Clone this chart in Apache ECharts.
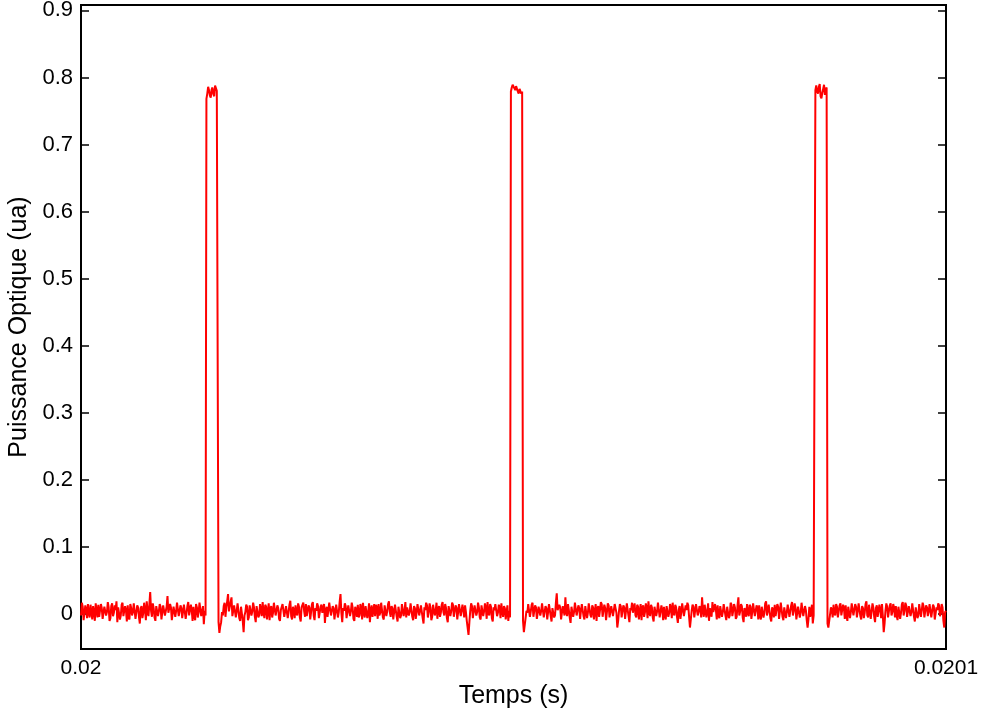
<!DOCTYPE html>
<html>
<head>
<meta charset="utf-8">
<script src="https://cdn.jsdelivr.net/npm/echarts@6/dist/echarts.min.js"></script>
<style>
html,body{margin:0;padding:0;background:#fff;}
#chart{width:981px;height:713px;}
</style>
</head>
<body>
<div id="chart"></div>
<script>
// Oscilloscope trace: sampled every 0.1 microsecond starting at t = 0.02 s
const timeStart = 0.02;      // s
const timeStep = 1e-7;       // s
const xTickValues = [0.02, 0.0201];
const yTickValues = [0, 0.1, 0.2, 0.3, 0.4, 0.5, 0.6, 0.7, 0.8, 0.9];
const xAxisName = 'Temps (s)';
const yAxisName = 'Puissance Optique (ua)';

const power = [
 -.002,.017,.011,-.009,-.008,.013,.006,-.006,.015,.002,-.005,.014,.004,-.008,.012,.003,-.010,.016,.005,-.005,
 .014,-.004,-.003,.015,.009,-.007,-.009,.011,.013,-.002,.003,.018,.010,-.010,-.006,.012,.016,-.003,.002,.013,
 .006,.019,-.012,.010,.011,-.008,-.002,.014,.017,-.003,-.004,.012,.005,-.011,.013,-.005,-.008,.015,.009,-.002,
 .003,.016,.015,-.007,-.005,.013,.010,-.004,-.014,.009,.012,-.006,.002,.017,.006,-.009,.019,.004,-.003,.014,
 .033,.005,-.004,.016,.009,-.005,-.010,.012,.013,-.003,.004,.015,.011,-.008,-.007,.013,.014,-.002,-.002,.011,
 .027,.002,.003,.015,.010,-.009,-.011,.011,.012,-.004,.005,.017,.016,-.003,-.005,.013,.009,-.006,-.008,.014,
 .013,-.007,.002,.012,.018,-.002,-.003,.014,.006,-.010,.011,-.004,-.009,.015,.010,-.005,.003,.017,.015,-.003,
 -.004,.012,-.015,.005,-.002,.768,.776,.786,.781,.773,.770,.782,.785,.775,.772,.788,.790,.780,.778,-.012,
 -.028,-.018,-.012,.003,-.002,.012,.017,-.004,.010,.019,.030,.004,.003,.018,.025,-.003,-.004,.013,.012,-.005,
 .005,.016,.014,-.006,-.010,.011,.009,-.010,-.027,-.002,.003,.014,.011,-.009,-.005,.013,.015,-.002,.004,.017,
 .010,-.004,-.012,.012,.013,-.005,-.002,.015,.006,-.003,.018,.003,-.006,.014,.011,-.008,.004,.016,-.009,.009,
 .012,-.005,.002,.017,.016,-.002,-.004,.013,.009,-.007,-.010,.006,.005,.015,.014,-.004,-.003,.012,.010,-.006,
 .003,.014,.020,-.003,-.008,.011,.006,-.006,.013,.002,-.002,.016,.011,-.005,-.011,.010,.009,.017,.004,-.004,
 .015,-.003,-.005,.013,.010,-.008,.003,.015,.018,-.002,-.009,.009,.005,.016,.012,-.006,-.004,.011,.014,.002,
 .002,.015,-.013,.005,.011,-.004,.006,.017,.016,-.002,-.003,.012,.009,-.008,-.007,.014,.013,-.005,.003,.018,
 .030,.002,-.012,.009,.005,.016,.012,-.006,-.004,.013,.015,-.003,.004,.017,.010,-.007,-.010,.011,.006,-.004,
 .014,-.005,-.002,.015,.009,-.008,.017,.002,-.005,.012,.011,-.006,.003,.016,-.012,.006,.013,-.004,.005,.015,
 -.003,.014,.010,-.007,.015,-.002,.002,.017,.006,-.005,-.008,.013,.012,-.003,.004,.015,.019,.003,-.004,.012,
 .009,-.008,.003,.014,.013,-.004,-.011,.011,.010,-.006,-.002,.015,.016,-.003,.005,.018,-.005,.010,.011,-.002,
 .004,.016,.014,-.004,-.009,.012,.009,-.007,.002,.015,.017,-.002,-.003,.013,.011,-.006,-.014,.010,.006,.017,
 .013,-.005,.003,.016,.010,-.009,-.004,.014,.015,-.002,.005,.017,-.007,.009,.012,-.004,.002,.014,.018,.003,
 -.002,.015,.009,-.006,-.012,.012,.011,-.003,.004,.017,.014,-.004,-.005,.013,.010,-.008,.003,.015,.016,-.003,
 -.003,.014,.006,-.005,.013,.003,-.010,-.012,-.031,-.012,.005,.016,.012,-.006,-.004,.013,.015,-.002,.003,.017,
 .010,-.005,-.008,.013,.014,-.003,.004,.016,.009,-.007,.018,.002,-.002,.015,.011,-.006,-.011,.010,.006,.015,
 .013,-.003,.002,.014,.010,-.006,.016,.003,-.004,.012,.009,-.008,.003,.013,-.010,.005,-.005,.779,.785,.789,
 .791,.784,.781,.787,.788,.779,.776,.783,.784,.776,.779,-.010,-.027,-.016,-.014,.005,.002,.015,.013,-.004,
 .004,.014,.017,-.004,-.003,.013,.010,-.007,-.009,.011,.012,-.002,.005,.016,.015,-.005,-.004,.012,.009,-.008,
 .003,.015,.014,-.003,-.011,.009,.011,-.005,-.002,.017,.031,.006,.004,.014,.010,-.008,-.006,.012,.013,-.002,
 .025,.003,-.003,.015,.006,-.005,-.013,.011,.012,-.004,.003,.017,.016,-.002,-.004,.013,.009,-.007,.005,.015,
 .014,-.003,-.008,.012,.011,-.006,.002,.016,.018,-.002,-.005,.013,.010,-.008,.004,.015,-.010,.009,.012,-.004,
 .006,.018,.015,-.004,-.003,.014,.009,-.009,.003,.016,.013,-.005,-.007,.012,.011,-.003,-.002,.015,.017,.002,
 -.020,-.010,.005,.015,.012,-.005,-.004,.013,.010,-.007,.004,.016,.014,-.003,-.012,.009,.006,.017,.002,.011,
 .016,-.002,-.005,.014,.011,-.008,.005,.015,-.009,.010,.013,-.004,.003,.016,.009,-.006,.019,.004,-.003,.014,
 .010,-.005,-.011,.011,.012,-.003,.004,.017,.015,-.005,-.004,.013,.006,-.009,.011,-.002,-.008,.012,.014,-.004,
 .002,.015,.009,-.006,.017,.003,-.002,.014,.010,-.004,-.013,.006,.012,-.007,.003,.016,.016,-.003,-.005,.013,
 .006,.017,.013,-.004,-.020,-.008,.005,.014,.011,-.005,-.003,.015,.015,-.002,.003,.012,.009,-.005,.025,.005,
 -.004,.014,.012,-.005,.004,.016,-.010,.009,.010,-.004,.018,.003,.002,.015,.006,-.008,.013,-.002,-.006,.012,
 .011,-.004,.003,.015,.016,-.002,-.009,.011,.009,-.006,-.002,.017,.014,-.003,.005,.015,.010,-.007,-.004,.013,
 .025,-.002,.004,.015,.012,-.005,-.012,.009,.006,-.004,.015,.002,-.003,.014,.011,-.007,.003,.016,.017,-.003,
 -.005,.013,.009,-.008,.013,-.003,-.008,.011,.010,-.005,.002,.016,.019,-.002,.005,.014,.012,-.006,-.011,.010,
 .006,-.005,.014,-.003,-.002,.015,.011,-.007,.004,.017,.016,-.004,-.009,.010,.009,-.006,.003,.014,.013,-.004,
 -.004,.013,.018,-.002,.005,.016,.010,-.008,-.010,.011,.012,-.005,.002,.017,.015,-.003,-.005,.012,.006,-.009,
 -.020,-.008,.011,-.004,.003,.014,-.014,-.002,-.003,.781,.788,.779,.776,.786,.790,.772,.769,.777,.783,.789,
 .774,.782,.785,-.014,-.020,-.010,-.012,.010,.006,-.005,.014,.002,-.002,.015,.011,-.005,.004,.013,.016,-.002,
 -.004,.014,.009,-.007,.013,-.003,-.010,.011,.010,-.006,.003,.016,.017,-.002,-.003,.015,.011,-.005,.005,.016,
 .014,-.003,-.008,.012,.009,-.006,.002,.015,.019,-.002,-.005,.014,.012,-.007,.004,.016,.010,-.004,-.012,.009,
 .013,-.004,-.002,.014,.006,-.006,.015,-.003,-.027,-.014,.005,.016,.011,-.005,-.004,.013,.016,-.002,.003,.015,
 .009,-.005,.012,-.003,-.009,.011,.010,-.007,.002,.015,.018,-.002,.005,.017,.013,-.004,-.006,.012,.011,-.003,
 .003,.016,.015,-.004,-.011,.010,.009,-.006,-.002,.015,.014,-.004,.006,.017,.012,-.005,-.007,.013,.010,-.003,
 .004,.015,.017,-.005,-.004,.014,.011,-.008,-.010,.010,.006,.016,.013,-.003,.002,.015,.010,-.010,-.020,.003,
 .005
];

const seriesData = power.map((v, i) => [timeStart + i * timeStep, v]);

const FONT = '"Liberation Sans", Arial, Helvetica, sans-serif';
const chart = echarts.init(document.getElementById('chart'), null, {renderer: 'canvas'});
chart.setOption({
  animation: false,
  backgroundColor: '#ffffff',
  grid: {left: 81, right: 35, top: 5, bottom: 64, outerBoundsMode: 'none', containLabel: false,
    show: true, borderColor: '#000', borderWidth: 2, backgroundColor: 'transparent'},
  xAxis: {
    type: 'value', min: 0.02, max: 0.0201,
    name: xAxisName, nameLocation: 'middle', nameGap: 29,
    nameTextStyle: {fontFamily: FONT, fontSize: 25, color: '#000'},
    axisLine: {show: true, onZero: false, lineStyle: {color: '#000', width: 2}},
    axisTick: {show: true, inside: true, length: 8, customValues: xTickValues, lineStyle: {color: '#000', width: 1.5}},
    axisLabel: {show: true, customValues: xTickValues, margin: 9, fontFamily: FONT, fontSize: 21, color: '#000',
      formatter: v => (Math.abs(v - 0.02) < 1e-9 ? '0.02' : '0.0201')},
    splitLine: {show: false}
  },
  yAxis: [{
    type: 'value', min: -0.052, max: 0.908, position: 'left',
    name: yAxisName, nameLocation: 'middle', nameGap: 49, nameRotate: 90,
    nameTextStyle: {fontFamily: FONT, fontSize: 25, color: '#000'},
    axisLine: {show: true, onZero: false, lineStyle: {color: '#000', width: 2}},
    axisTick: {show: true, inside: true, length: 8, customValues: yTickValues, lineStyle: {color: '#000', width: 1.5}},
    axisLabel: {show: true, customValues: yTickValues, margin: 8, fontFamily: FONT, fontSize: 22, color: '#000',
      formatter: v => (Math.abs(v) < 1e-9 ? '0' : v.toFixed(1))},
    splitLine: {show: false}
  }, {
    type: 'value', min: -0.052, max: 0.908, position: 'right',
    axisLine: {show: true, onZero: false, lineStyle: {color: '#000', width: 2}},
    axisTick: {show: true, inside: true, length: 8, customValues: yTickValues, lineStyle: {color: '#000', width: 1.5}},
    axisLabel: {show: false},
    splitLine: {show: false}
  }],
  series: [{
    type: 'line',
    data: seriesData,
    showSymbol: false,
    symbol: 'none',
    lineStyle: {color: '#ff0000', width: 2},
    clip: true
  }]
});
</script>
</body>
</html>
